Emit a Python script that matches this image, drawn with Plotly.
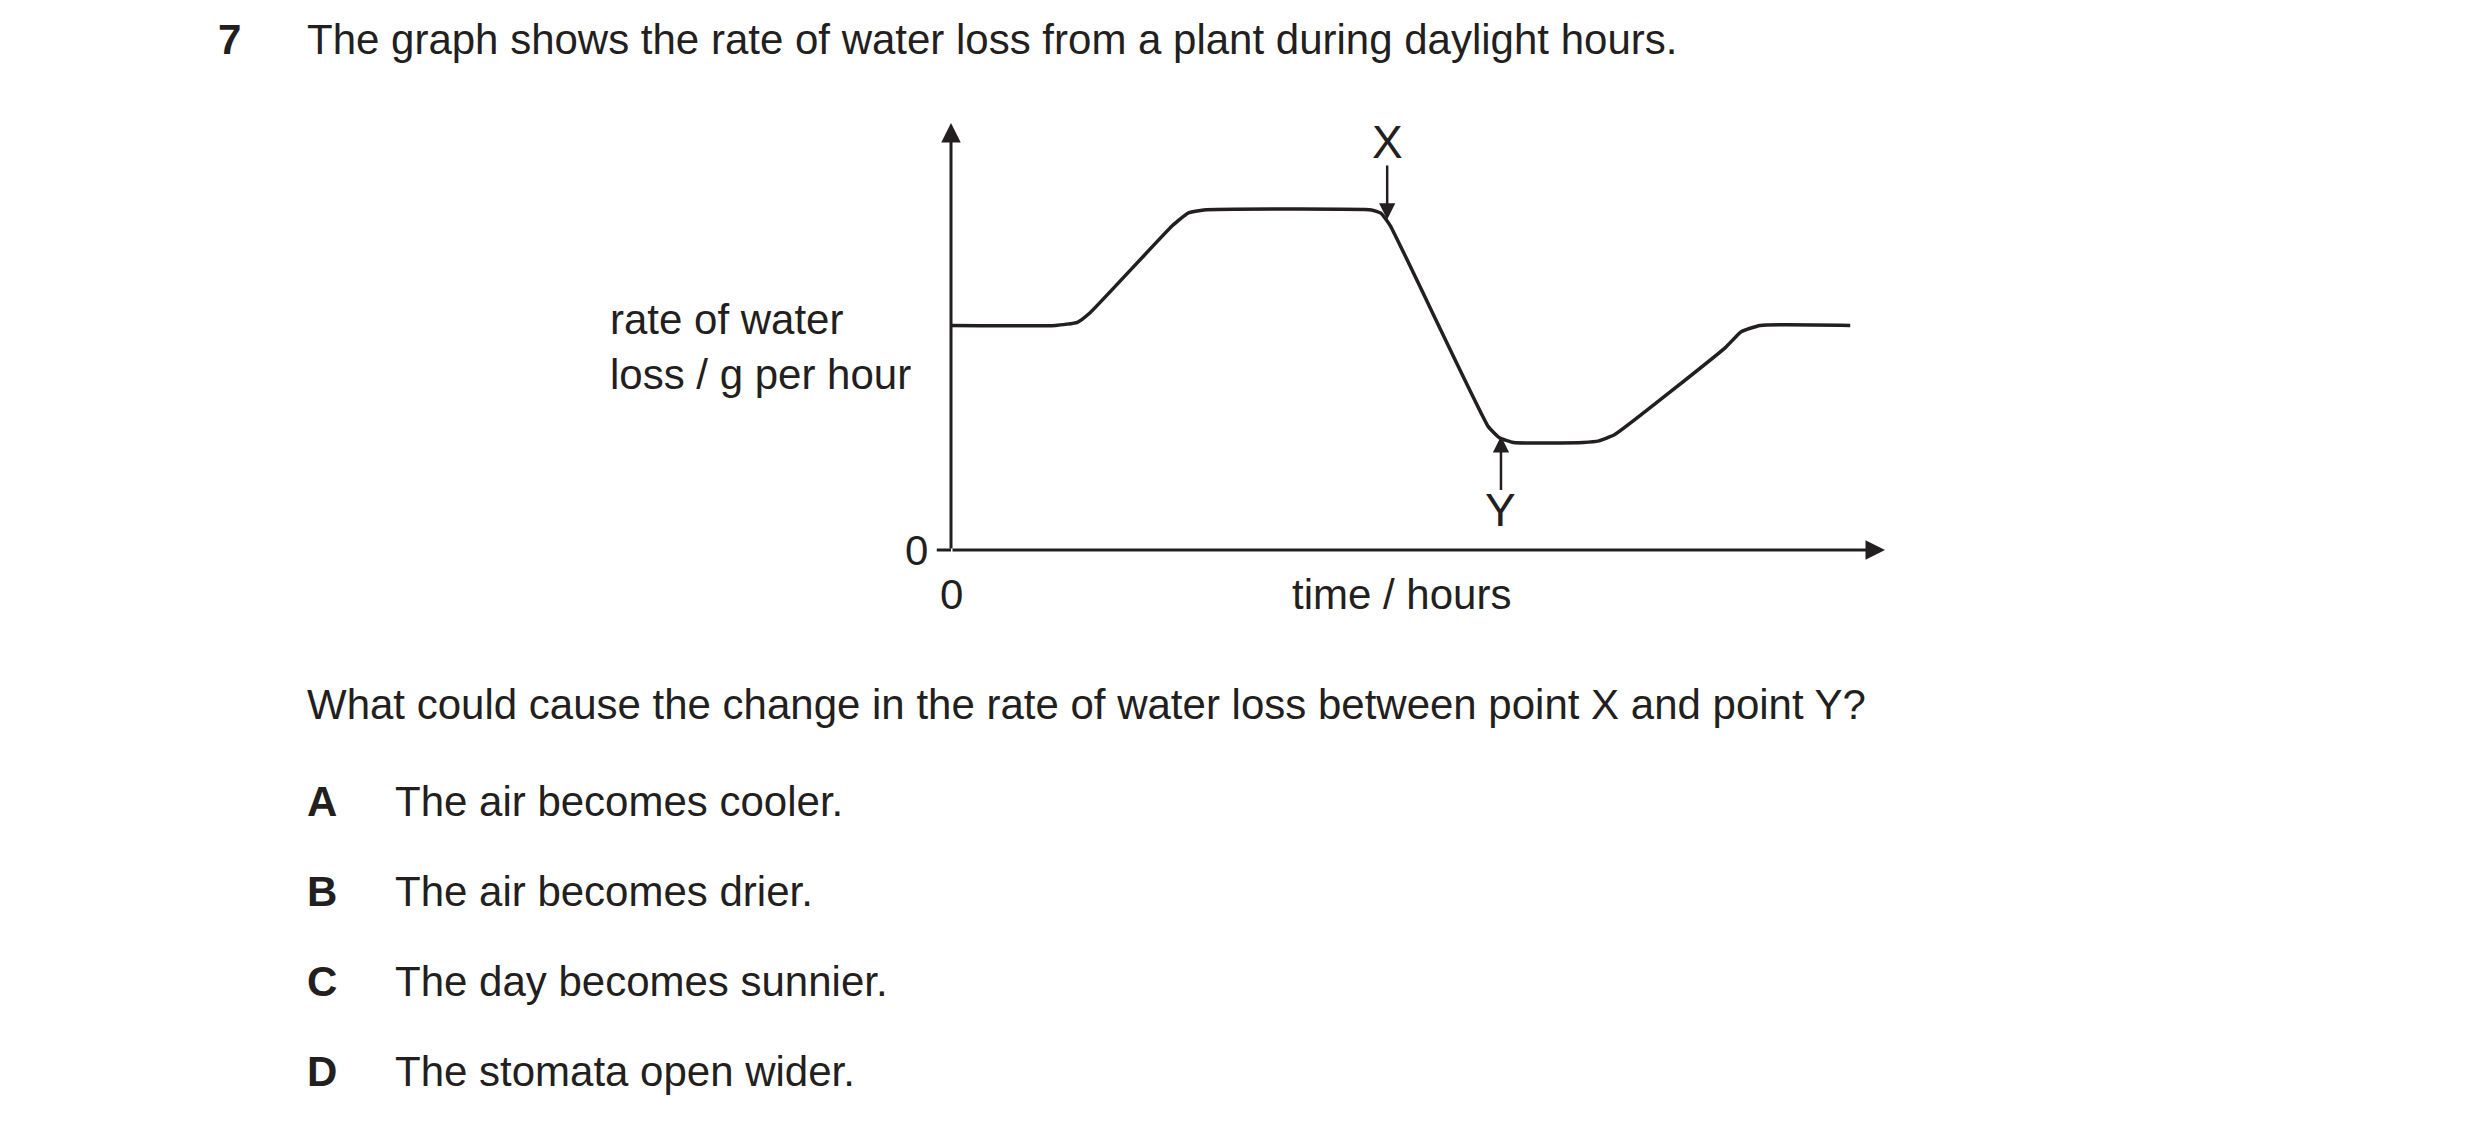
import plotly.graph_objects as go

# curve data (arbitrary units: time, rate)
time_vals = [0, 66, 80, 88, 140, 150, 160, 266, 272, 278, 340, 347, 356, 400, 410, 420, 490, 500, 512, 569]
rate_vals = [142, 142, 144, 150, 205, 213, 215, 215, 213, 205, 78, 71, 68, 68, 69, 73, 128, 138, 142, 142]

title = "The graph shows the rate of water loss from a plant during daylight hours."
question = "What could cause the change in the rate of water loss between point X and point Y?"
opt_letters = ["A", "B", "C", "D"]
opt_texts = ["The air becomes cooler.", "The air becomes drier.",
             "The day becomes sunnier.", "The stomata open wider."]

FONT = "Liberation Sans, Arial, sans-serif"
FS = 42
C = "#231f20"
XR, YR = 591.0, 270.0

fig = go.Figure()
fig.add_trace(go.Scatter(x=time_vals, y=rate_vals, mode="lines",
                         line=dict(color=C, width=3.5, shape="spline", smoothing=0.4),
                         hoverinfo="skip", showlegend=False))

ann = []
def txt(x, y, s, xa="left", bold=False, size=FS):
    ann.append(dict(x=x / XR, y=y / YR, xref="paper", yref="paper",
                    text=("<b>%s</b>" % s) if bold else s,
                    showarrow=False, xanchor=xa, yanchor="middle",
                    font=dict(family=FONT, size=size, color=C)))
def arrow(x0, y0, x1, y1, w=3):
    ann.append(dict(x=x1, y=y1, ax=x0, ay=y0, xref="x", yref="y", axref="x", ayref="y",
                    text="", showarrow=True, arrowhead=2, arrowsize=1.3, arrowwidth=w,
                    arrowcolor=C, standoff=0, startstandoff=0))

txt(-465, 323, "7", bold=True)
txt(-409, 323, title)
txt(-409, -98, question)
for i, (l, t) in enumerate(zip(opt_letters, opt_texts)):
    y = -159 - 57 * i
    txt(-409, y, l, bold=True)
    txt(-353, y, t)
txt(-217, 146, "rate of water")
txt(-217, 111, "loss / g per hour")
txt(-13, 0, "0", xa="right")
txt(0, -28, "0", xa="center")
txt(285, -28, "time / hours", xa="center")
txt(276, 258, "X", xa="center", size=46)
txt(348, 25, "Y", xa="center", size=46)

arrow(0, 0, 0, 270)
arrow(0, 0, 591, 0)
arrow(276, 244, 276, 209, w=2.5)
arrow(348, 37, 348, 72, w=2.5)

fig.add_shape(type="line", x0=-9 / XR, x1=0, y0=0, y1=0, xref="paper", yref="paper",
              line=dict(color=C, width=3))

fig.update_layout(
    width=2480, height=1129, paper_bgcolor="white", plot_bgcolor="white",
    margin=dict(l=943, r=603, t=115, b=587),
    annotations=ann, showlegend=False,
    xaxis=dict(range=[0, 591], visible=False, fixedrange=True),
    yaxis=dict(range=[0, 270], visible=False, fixedrange=True),
)
fig.write_html("out.html")
